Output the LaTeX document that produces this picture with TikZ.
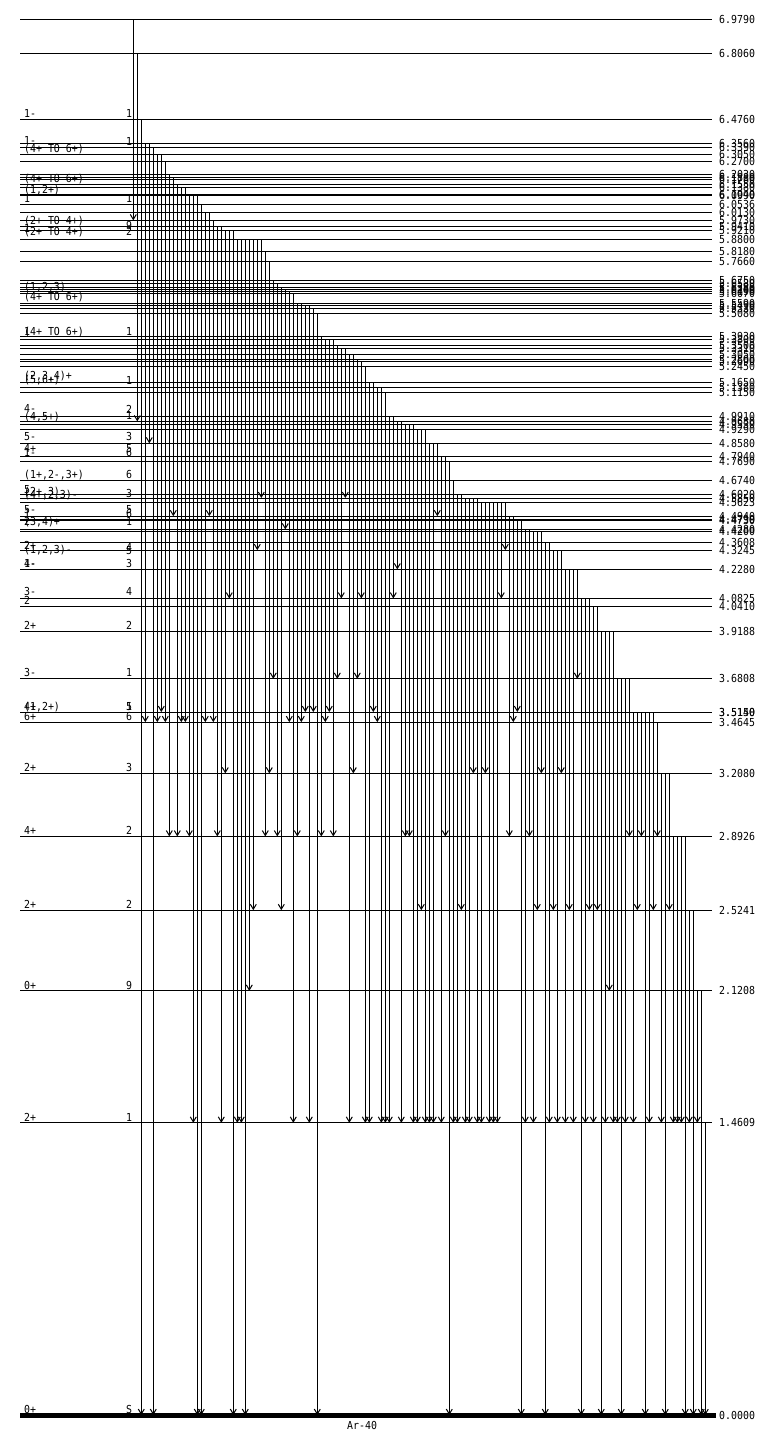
\documentclass[tikz,border=0pt]{standalone}
\usepackage{fontspec}
\newfontfamily\pix[FakeStretch=0.9]{DejaVu Sans Mono}
\usetikzlibrary{arrows.meta}
\begin{document}
\begin{tikzpicture}[x=1pt,y=-1pt,
  lvl/.style={line width=1pt},
  gam/.style={line width=1pt,-{Straight Barb[length=5pt,width=6pt,line width=1pt]}},
  lab/.style={font=\pix\fontsize{11}{11}\selectfont, inner sep=0pt, anchor=base west},
]
\fill[white] (0,0) rectangle (767,1437);
\useasboundingbox (0,0) rectangle (767,1437);
% levels
\foreach \e [count=\i] in {6.9790,6.8060,6.4760,6.3560,6.3390,6.3050,6.2700,6.2030,6.1880,6.1780,6.1550,6.1380,6.1040,6.0990,6.0536,6.0130,5.9730,5.9410,5.9210,5.8800,5.8180,5.7660,5.6750,5.6580,5.6380,5.6280,5.6190,5.6070,5.5590,5.5490,5.5330,5.5080,5.3930,5.3800,5.3500,5.3310,5.3050,5.2800,5.2690,5.2450,5.1650,5.1380,5.1150,4.9910,4.9680,4.9530,4.9290,4.8580,4.7940,4.7690,4.6740,4.6020,4.5850,4.5623,4.4940,4.4790,4.4730,4.4280,4.4200,4.3608,4.3245,4.2280,4.0825,4.0410,3.9188,3.6808,3.5150,3.5140,3.4645,3.2080,2.8926,2.5241,2.1208,1.4609}{
  \draw[lvl] (20,{1415-200*\e}) -- (712,{1415-200*\e});
  \node[lab] (r\i) at (719,{1419-200*\e}) {\e};
}
\draw[line width=5pt] (20,1415) -- (716,1415);
\node[lab] (r0) at (719,1419) {0.0000};
\node[lab] (nuc) at (347,1429) {Ar-40};
% left labels
\foreach \y/\t [count=\i] in {117.5/1-,144/1-,152.5/(4+ TO 6+),182/(4+ TO 6+),193/{(1,2+)},202/1,224.5/(2+ TO 4+),232/1,235.5/(2+ TO 4+),
  290/{(1,2,3)},300/(4+ TO 6+),335/1,335/(4+ TO 6+),379/{(2,3,4)+},383.5/{(5,6+)},412/4-,420/{(4,5+)},440/5-,452/4+,456/1-,478/{(1+,2-,3+)},
  493/5,495/{(2+,3)},498/{(4+,2,3)-},513/5-,517/1,525/2,525/{(3,4)+},549/2+,553/{(1,2,3)-},567/4-,567/1-,595.7/3-,604/2,629/2+,676.5/3-,
  710/4+,710/{(1,2+)},720/6+,771/2+,834/4+,908/2+,989/0+,1121/2+,1413/0+}{
  \node[lab] (l\i) at (24,\y) {\t};
}
% middle labels
\foreach \y/\t [count=\i] in {117.5/1,145/1,202/1,229/9,235.5/2,335/1,384/1,413/2,419/1,440/3,452/5,456/6,478/6,497/3,513.5/5,517.5/6,525/1,551/4,554/5,567/3,595.7/4,629/2,676.5/1,710/5,710/1,720/6,771/3,834/2,908/2,989/9,1121/1,1413/S}{
  \node[lab] (m\i) at (126,\y) {\t};
}
% transitions: column/start/end
\foreach \k/\s/\f in {0/6.979/5.973,1/6.806/4.968,2/6.476/0,3/6.356/3.4645,4/6.356/4.858,5/6.339/0,6/6.305/3.4645,7/6.305/3.515,8/6.270/3.4645,9/6.203/2.8926,
 10/6.188/4.494,11/6.155/2.8926,12/6.138/3.4645,13/6.138/3.4645,14/6.104/2.8926,15/6.104/1.4609,16/6.104/0,17/6.0536/0,18/6.013/3.4645,19/6.013/4.494,
 20/5.973/3.4645,21/5.941/2.8926,22/5.941/1.4609,23/5.921/3.208,24/5.921/4.0825,25/5.921/0,26/5.880/1.4609,27/5.880/1.4609,28/5.880/0,29/5.880/2.1208,
 30/5.880/2.5241,31/5.880/4.3245,32/5.880/4.585,33/5.818/2.8926,34/5.766/3.208,35/5.675/3.6808,36/5.658/2.8926,37/5.638/2.5241,38/5.628/4.428,39/5.619/3.4645,
 40/5.607/1.4609,41/5.559/2.8926,42/5.559/3.4645,43/5.549/3.515,44/5.549/1.4609,45/5.533/3.515,46/5.508/0,47/5.393/2.8926,48/5.380/3.4645,49/5.380/3.515,
 50/5.380/2.8926,51/5.350/3.6808,52/5.331/4.0825,53/5.331/4.585,54/5.305/1.4609,55/5.305/3.208,56/5.280/3.6808,57/5.269/4.0825,58/5.245/1.4609,59/5.165/1.4609,
 60/5.165/3.515,61/5.138/3.4645,62/5.138/1.4609,63/5.115/1.4609,64/4.991/1.4609,65/4.991/4.0825,66/4.968/4.228,67/4.968/1.4609,68/4.953/2.8926,69/4.953/2.8926,
 70/4.953/1.4609,71/4.929/1.4609,72/4.929/2.5241,73/4.929/1.4609,74/4.858/1.4609,75/4.858/1.4609,76/4.858/4.494,77/4.794/1.4609,78/4.794/2.8926,79/4.769/0,
 80/4.674/1.4609,81/4.602/1.4609,82/4.602/2.5241,83/4.585/1.4609,84/4.585/1.4609,85/4.585/3.208,86/4.585/1.4609,87/4.5623/1.4609,88/4.5623/3.208,89/4.5623/1.4609,
 90/4.5623/1.4609,91/4.5623/1.4609,92/4.5623/4.0825,93/4.5623/4.3245,94/4.494/2.8926,95/4.494/3.4645,96/4.479/3.515,97/4.473/0,98/4.428/1.4609,99/4.428/2.8926,
 100/4.420/1.4609,101/4.420/2.5241,102/4.420/3.208,103/4.3608/0,104/4.3608/1.4609,105/4.3245/2.5241,106/4.3245/1.4609,107/4.3245/3.208,108/4.228/1.4609,109/4.228/2.5241,
 110/4.228/1.4609,111/4.228/3.6808,112/4.0825/0,113/4.0825/1.4609,114/4.0825/2.5241,115/4.041/1.4609,116/4.041/2.5241,117/3.9188/0,118/3.9188/1.4609,119/3.9188/2.1208,
 120/3.9188/1.4609,121/3.6808/1.4609,122/3.6808/0,123/3.6808/1.4609,124/3.6808/2.8926,125/3.515/1.4609,126/3.515/2.5241,127/3.515/2.8926,128/3.515/0,129/3.515/1.4609,
 130/3.515/2.5241,131/3.4645/2.8926,132/3.208/1.4609,133/3.208/0,134/3.208/2.5241,135/2.8926/1.4609,136/2.8926/1.4609,137/2.8926/1.4609,138/2.8926/0,139/2.5241/1.4609,
 140/2.5241/0,141/2.1208/1.4609,142/2.1208/0,143/1.4609/0}{
  \draw[gam] ({133.3+4*\k},{1415-200*\s}) -- ({133.3+4*\k},{1415-200*\f});
}
\end{tikzpicture}
\end{document}
